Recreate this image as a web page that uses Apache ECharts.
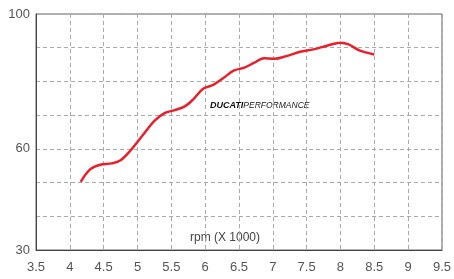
<!DOCTYPE html>
<html>
<head>
<meta charset="utf-8">
<script src="https://cdn.jsdelivr.net/npm/echarts@6/dist/echarts.min.js"></script>
<style>
  html, body { margin: 0; padding: 0; background: #fff; }
  #chart { width: 454px; height: 279px; }
</style>
</head>
<body>
<div id="chart"></div>
<script>
// rpm (x1000) and power readings
const rpm = [4.16, 4.3, 4.45, 4.62, 4.75, 4.9, 5.08, 5.25, 5.4, 5.55, 5.7, 5.82, 5.97,
  6.12, 6.27, 6.42, 6.58, 6.72, 6.87, 7.02, 7.2, 7.4, 7.6, 7.8, 8.0, 8.12, 8.28, 8.5];
const power = [50.2, 53.9, 55.3, 55.7, 56.6, 59.6, 64.1, 68.3, 70.6, 71.5, 72.6, 74.6, 77.8,
  79.0, 81, 83.2, 84.1, 85.5, 86.9, 86.7, 87.5, 88.8, 89.5, 90.6, 91.5, 91.0, 89.2, 88.0];
const yLabels = [30, 60, 100];

const chart = echarts.init(document.getElementById("chart"));

const labelFont = { color: "#555", fontSize: 13, fontFamily: "Liberation Sans" };
const gridLine = { show: true, lineStyle: { color: "#aaa", type: [4, 3], width: 1 } };

chart.setOption({
  animation: false,
  grid: { left: 36, right: 11, top: 14, bottom: 29, show: true, borderColor: "#666", borderWidth: 1 },
  xAxis: {
    type: "value",
    min: 3.5,
    max: 9.5,
    interval: 0.5,
    axisLine: { lineStyle: { color: "#444" } },
    axisTick: { show: false },
    axisLabel: { ...labelFont, margin: 11 },
    splitLine: gridLine,
  },
  yAxis: {
    type: "value",
    min: 30,
    max: 100,
    interval: 10,
    axisLine: { show: true, lineStyle: { color: "#444" } },
    axisTick: { show: false },
    axisLabel: {
      ...labelFont,
      margin: 6,
      formatter: (v) => (yLabels.includes(v) ? String(v) : ""),
    },
    splitLine: gridLine,
  },
  graphic: [
    {
      type: "text",
      left: 210,
      top: 101,
      style: {
        text: "{a|DUCATI}{b|PERFORMANCE}",
        rich: {
          a: { fontFamily: "Liberation Sans", fontStyle: "italic", fontWeight: "bold", fontSize: 9, fill: "#111" },
          b: { fontFamily: "Liberation Sans", fontStyle: "italic", fontSize: 8.5, fill: "#222" },
        },
      },
    },
    {
      type: "text",
      left: 190,
      top: 232,
      style: { text: "rpm (X 1000)", fontFamily: "Liberation Sans", fontSize: 12, fill: "#444" },
    },
  ],
  series: [
    {
      type: "line",
      data: rpm.map((r, i) => [r, power[i]]),
      smooth: 0.35,
      showSymbol: false,
      lineStyle: { color: "#e8202a", width: 2.5 },
    },
  ],
});
</script>
</body>
</html>
